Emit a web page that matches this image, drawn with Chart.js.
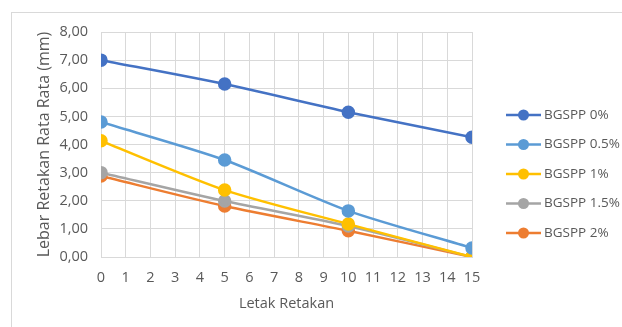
<!DOCTYPE html>
<html lang="id">
  <head>
    <meta charset="UTF-8" />
    <title>Lebar Retakan Rata Rata</title>
    <script src="https://cdn.jsdelivr.net/npm/chart.js@4.4.1/dist/chart.umd.min.js"></script>
    <style>
      body { margin: 0; background: #fff; }
      .frame {
        position: absolute; left: 11px; top: 12px;
        width: 640px; height: 340px;
        border: 1px solid #d9d9d9;
      }
      .wrap { position: absolute; left: 0; top: 0; width: 622px; height: 327px; }
    </style>
  </head>
  <body>
    <div class="frame"></div>
    <div class="wrap"><canvas id="chart"></canvas></div>

    <script>
      // data
      const positions = [0, 5, 10, 15];
      const seriesNames = ["BGSPP 0%", "BGSPP 0.5%", "BGSPP 1%", "BGSPP 1.5%", "BGSPP 2%"];
      const bgspp0 = [7.0, 6.15, 5.15, 4.26];
      const bgspp05 = [4.8, 3.45, 1.64, 0.32];
      const bgspp1 = [4.13, 2.38, 1.17, 0.0];
      const bgspp15 = [3.0, 1.99, 1.1, 0.0];
      const bgspp2 = [2.88, 1.81, 0.93, 0.0];
      const colors = ["#4472C4", "#5B9BD5", "#FFC000", "#A5A5A5", "#ED7D31"];

      const allSeries = [bgspp0, bgspp05, bgspp1, bgspp15, bgspp2];

      const datasets = allSeries.map((vals, i) => ({
        label: seriesNames[i],
        data: vals.map((v, j) => ({ x: positions[j], y: v })),
        borderColor: colors[i],
        backgroundColor: colors[i],
        borderWidth: 2.5,
        pointRadius: 5.5,
        pointHoverRadius: 5.5,
        tension: 0.25,
      }));

      const fontFamily = "'Open Sans', 'Liberation Sans', sans-serif";
      const font = { family: fontFamily, size: 14.5 };
      const textColor = "#595959";

      // excel style legend on the right: line + marker + name
      const sideLegend = {
        id: "sideLegend",
        afterDraw(chart) {
          const ctx = chart.ctx;
          const area = chart.chartArea;
          const x0 = area.right + 34;
          const y0 = area.top + 83;
          ctx.save();
          ctx.font = "13.5px " + fontFamily;
          ctx.textBaseline = "middle";
          chart.data.datasets.forEach((ds, i) => {
            const y = y0 + i * 29.5;
            ctx.strokeStyle = ds.borderColor;
            ctx.lineWidth = 2.5;
            ctx.beginPath();
            ctx.moveTo(x0, y);
            ctx.lineTo(x0 + 35, y);
            ctx.stroke();
            ctx.fillStyle = ds.borderColor;
            ctx.beginPath();
            ctx.arc(x0 + 17.5, y, 5.5, 0, Math.PI * 2);
            ctx.fill();
            ctx.fillStyle = textColor;
            ctx.fillText(ds.label, x0 + 38, y);
          });
          ctx.restore();
        },
      };

      new Chart(document.getElementById("chart"), {
        type: "line",
        data: { datasets: datasets },
        plugins: [sideLegend],
        options: {
          responsive: true,
          maintainAspectRatio: false,
          animation: false,
          layout: { padding: { left: 33, top: 32, right: 150, bottom: 12 } },
          plugins: {
            tooltip: { enabled: false },
            legend: { display: false },
          },
          scales: {
            x: {
              type: "linear",
              min: 0,
              max: 15,
              afterFit: (s) => { s.height = 58; },
              ticks: { stepSize: 1, color: textColor, font: font, padding: 12 },
              grid: { color: "#d9d9d9", drawTicks: false },
              border: { color: "#d9d9d9" },
              title: { display: true, text: "Letak Retakan", color: textColor, font: font, padding: { top: 0, bottom: 2 } },
            },
            y: {
              min: 0,
              max: 8,
              afterFit: (s) => { s.width = 68; },
              ticks: {
                stepSize: 1,
                color: textColor,
                font: font,
                padding: 13,
                callback: (v) => v.toFixed(2).replace(".", ","),
              },
              grid: { color: "#d9d9d9", drawTicks: false },
              border: { color: "#d9d9d9" },
              title: { display: true, text: "Lebar Retakan Rata Rata (mm)", color: textColor, font: { family: fontFamily, size: 16 }, padding: { top: 2, bottom: 0 } },
            },
          },
        },
      });
    </script>
  </body>
</html>
